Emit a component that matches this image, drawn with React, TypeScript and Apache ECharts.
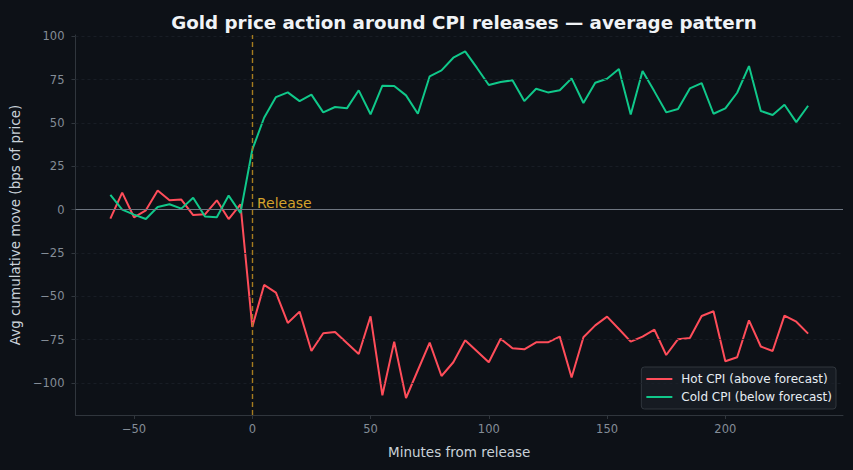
import React, { useEffect, useRef } from "react";
import * as echarts from "echarts";

const minutes: number[] = [];
for (let m = -60; m <= 235; m += 5) minutes.push(m);

const hotCPI = [
  -5.2, 9.8, -4.4, -0.4, 11.1, 5.4, 5.8, -3.1, -2.7, 5.4, -5.4, 3.1,
  -67.6, -43.4, -47.8, -65.3, -58.8, -81.5, -71.3, -70.5, -76.9, -83.2,
  -61.5, -107.0, -76.1, -108.6, -92.6, -76.7, -95.9, -88.0, -75.3, -81.6,
  -88.0, -74.4, -79.9, -80.5, -76.5, -76.5, -73.2, -96.8, -73.6, -66.7,
  -61.7, -68.8, -76.1, -73.2, -69.2, -83.8, -74.7, -74.0, -61.3, -58.6,
  -87.4, -85.1, -63.8, -78.9, -81.5, -61.1, -64.6, -71.5,
];

const coldCPI = [
  8.5, 0, -2.9, -5.4, 1.5, 3.1, 0.6, 6.9, -4.0, -4.4, 8.1, -1.9,
  34.6, 53.0, 64.9, 67.6, 62.6, 66.3, 56.1, 59.2, 58.4, 68.8, 55.0, 71.5,
  71.3, 65.9, 55.3, 76.9, 80.3, 87.6, 91.3, 81.7, 71.9, 73.6, 74.6, 62.6,
  69.7, 67.6, 68.8, 75.7, 61.5, 73.2, 75.5, 81.1, 54.8, 79.9, 68.2, 56.1,
  58.0, 69.9, 73.0, 55.3, 58.4, 67.4, 82.8, 56.9, 54.6, 60.5, 50.5, 59.9,
];

const xTicks = [-50, 0, 50, 100, 150, 200];
const yTicks = [-100, -75, -50, -25, 0, 25, 50, 75, 100];
const gridValues = [-100, -75, -50, -25, 25, 50, 75, 100];

const seriesNames = ["Hot CPI (above forecast)", "Cold CPI (below forecast)"];
const releaseMinute = 0;

const fmt = (v: number) => String(v).replace("-", "\u2212");

export default function App() {
  const ref = useRef<HTMLDivElement>(null);
  useEffect(() => {
    document.body.style.margin = "0";
    document.body.style.background = "#0d1117";
    const chart = echarts.init(ref.current!, null, { renderer: "svg" });
    const font = "DejaVu Sans";
    chart.setOption({
      animation: false,
      backgroundColor: "#0d1117",
      textStyle: { fontFamily: font },
      title: {
        text: "Gold price action around CPI releases \u2014 average pattern",
        left: 459,
        top: 8,
        textAlign: "center",
        textStyle: { color: "#f0f3f6", fontSize: 18.3, fontWeight: "bold", fontFamily: font },
      },
      grid: { left: 75, right: 10, top: 35, bottom: 55 },
      legend: {
        orient: "vertical",
        right: 17,
        bottom: 61,
        backgroundColor: "#161b22",
        borderColor: "#30363d",
        borderWidth: 1,
        borderRadius: 3,
        padding: [6, 4, 6, 5],
        itemGap: 6,
        itemWidth: 26,
        itemHeight: 2,
        icon: "rect",
        textStyle: { color: "#e6edf3", fontSize: 12, fontFamily: font, padding: [0, 0, 0, 4] },
        data: seriesNames,
      },
      xAxis: {
        type: "value",
        min: -74.75,
        max: 249.75,
        name: "Minutes from release",
        nameLocation: "middle",
        nameGap: 30,
        nameTextStyle: { color: "#c9d1d9", fontSize: 13.5, fontFamily: font },
        axisLine: { show: true, onZero: false, lineStyle: { color: "#30363d", width: 1 } },
        axisTick: { show: true, length: 4, customValues: xTicks, lineStyle: { color: "#30363d" } },
        axisLabel: {
          customValues: xTicks,
          color: "#848d97",
          fontSize: 11.5,
          margin: 8,
          formatter: (v: number) => fmt(v),
        },
        splitLine: { show: false },
      },
      yAxis: {
        type: "value",
        min: -118.4,
        max: 100.7,
        name: "Avg cumulative move (bps of price)",
        nameLocation: "middle",
        nameGap: 49,
        nameTextStyle: { color: "#c9d1d9", fontSize: 13.5, fontFamily: font },
        axisLine: { show: true, onZero: false, lineStyle: { color: "#30363d", width: 1 } },
        axisTick: { show: true, length: 4, customValues: yTicks, lineStyle: { color: "#30363d" } },
        axisLabel: {
          customValues: yTicks,
          color: "#848d97",
          fontSize: 11.5,
          margin: 11,
          formatter: (v: number) => fmt(v),
        },
        splitLine: { show: false },
      },
      series: [
        {
          name: seriesNames[0],
          type: "line",
          data: minutes.map((m, i) => [m, hotCPI[i]]),
          showSymbol: false,
          lineStyle: { color: "#ff4d5a", width: 2 },
          itemStyle: { color: "#ff4d5a" },
          z: 3,
          markLine: {
            silent: true,
            symbol: "none",
            label: { show: false },
            data: [
              ...gridValues.map((v) => ({
                yAxis: v,
                lineStyle: { color: "#1c2129", type: [3, 3], width: 0.8 },
              })),
              { yAxis: 0, lineStyle: { color: "#6e7681", type: "solid", width: 1 } },
            ],
          },
        },
        {
          name: seriesNames[1],
          type: "line",
          data: minutes.map((m, i) => [m, coldCPI[i]]),
          showSymbol: false,
          lineStyle: { color: "#10c88a", width: 2 },
          itemStyle: { color: "#10c88a" },
          z: 4,
          markLine: {
            silent: true,
            symbol: "none",
            label: { show: false },
            data: [
              { xAxis: releaseMinute, lineStyle: { color: "#a67c1f", type: [5, 3], width: 1.4 } },
            ],
          },
          markPoint: {
            silent: true,
            data: [
              {
                coord: [2, 3.6],
                symbol: "circle",
                symbolSize: 0,
                label: {
                  show: true,
                  formatter: "Release",
                  position: "right",
                  distance: 0,
                  color: "#d4a22b",
                  fontSize: 14,
                  fontFamily: font,
                },
              },
            ],
          },
        },
      ],
    });
    return () => chart.dispose();
  }, []);
  return (
    <div
      ref={ref}
      style={{ position: "absolute", left: 0, top: 0, width: 853, height: 470, background: "#0d1117" }}
    />
  );
}
